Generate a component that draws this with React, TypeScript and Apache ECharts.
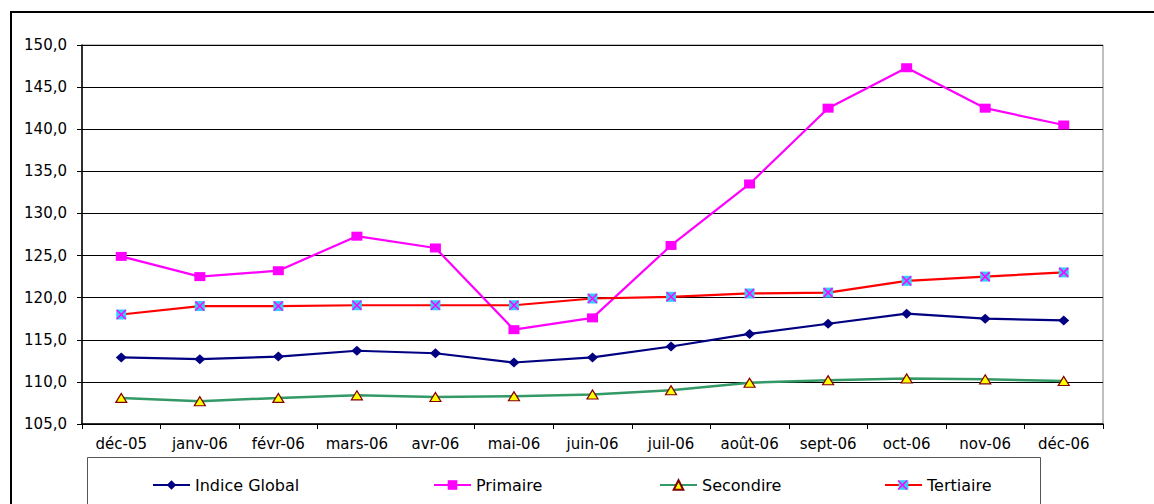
import React, { useEffect, useRef } from "react";
import * as echarts from "echarts";

const categories = ["déc-05", "janv-06", "févr-06", "mars-06", "avr-06", "mai-06", "juin-06", "juil-06", "août-06", "sept-06", "oct-06", "nov-06", "déc-06"];
const indiceGlobal = [112.9, 112.7, 113.0, 113.7, 113.4, 112.3, 112.9, 114.2, 115.7, 116.9, 118.1, 117.5, 117.3];
const primaire = [124.9, 122.5, 123.2, 127.3, 125.9, 116.2, 117.6, 126.2, 133.5, 142.5, 147.3, 142.5, 140.5];
const secondire = [108.1, 107.7, 108.1, 108.4, 108.2, 108.3, 108.5, 109.0, 109.9, 110.2, 110.4, 110.3, 110.1];
const tertiaire = [118.0, 119.0, 119.0, 119.1, 119.1, 119.1, 119.9, 120.1, 120.5, 120.6, 122.0, 122.5, 123.0];
const yTicks = { min: 105, max: 150, interval: 5 };

const FONT = "'DejaVu Sans', Arial, sans-serif";

export default function App() {
  const ref = useRef<HTMLDivElement>(null);
  useEffect(() => {
    if (!ref.current) return;
    const chart = echarts.init(ref.current, null, { renderer: "svg" });
    const legendText = { fontFamily: FONT, fontSize: 16, color: "#000" };
    const mkLegend = (name: string, left: number) => ({
      data: [name],
      left,
      top: 477,
      padding: 0,
      itemWidth: 37,
      itemHeight: 12,
      itemGap: 4,
      textStyle: legendText,
      selectedMode: false,
    });
    chart.setOption({
      animation: false,
      backgroundColor: "#fff",
      grid: { left: 82, top: 45, right: 51, bottom: 80, show: true, borderColor: "#808080", borderWidth: 1 },
      xAxis: {
        type: "category",
        data: categories,
        boundaryGap: true,
        axisLine: { lineStyle: { color: "#000", width: 1.5 } },
        axisTick: { show: true, length: 5, alignWithLabel: false, lineStyle: { color: "#000" } },
        axisLabel: { color: "#000", fontFamily: FONT, fontSize: 15, margin: 12, interval: 0 },
        splitLine: { show: false },
      },
      yAxis: {
        type: "value",
        min: yTicks.min,
        max: yTicks.max,
        interval: yTicks.interval,
        axisLine: { show: true, lineStyle: { color: "#000", width: 1.5 } },
        axisTick: { show: true, length: 5, lineStyle: { color: "#000" } },
        axisLabel: {
          color: "#000",
          fontFamily: FONT,
          fontSize: 15,
          margin: 15,
          formatter: (v: number) => v.toFixed(1).replace(".", ","),
        },
        splitLine: { show: true, lineStyle: { color: "#000", width: 1 } },
      },
      legend: [
        mkLegend("Indice Global", 152),
        mkLegend("Primaire", 433),
        mkLegend("Secondire", 659),
        mkLegend("Tertiaire", 884),
      ],
      graphic: [
        {
          type: "rect",
          shape: { x: 11, y: 12, width: 1200, height: 600 },
          style: { fill: "none", stroke: "#000", lineWidth: 2 },
          silent: true,
          z: -10,
        },
        {
          type: "rect",
          shape: { x: 87.5, y: 457.5, width: 953, height: 100 },
          style: { fill: "none", stroke: "#555", lineWidth: 1 },
          silent: true,
          z: -10,
        },
        {
          type: "line",
          shape: { x1: 898, y1: 480.5, x2: 907, y2: 489.5 },
          style: { stroke: "#FF00FF", lineWidth: 1.5 },
          silent: true,
          z: 100,
        },
        {
          type: "line",
          shape: { x1: 907, y1: 480.5, x2: 898, y2: 489.5 },
          style: { stroke: "#FF00FF", lineWidth: 1.5 },
          silent: true,
          z: 100,
        },
      ],
      series: [
        {
          name: "Indice Global",
          type: "line",
          data: indiceGlobal,
          symbol: "diamond",
          symbolSize: [11, 10],
          lineStyle: { color: "#000080", width: 2.2 },
          itemStyle: { color: "#000080" },
        },
        {
          name: "Primaire",
          type: "line",
          data: primaire,
          symbol: "rect",
          symbolSize: [11, 9],
          lineStyle: { color: "#FF00FF", width: 2.2 },
          itemStyle: { color: "#FF00FF" },
        },
        {
          name: "Secondire",
          type: "line",
          data: secondire,
          symbol: "triangle",
          symbolSize: [11, 9],
          lineStyle: { color: "#339966", width: 2.5 },
          itemStyle: { color: "#FFFF00", borderColor: "#800000", borderWidth: 1.2 },
        },
        {
          name: "Tertiaire",
          type: "line",
          data: tertiaire,
          symbol: "rect",
          symbolSize: [10, 10],
          lineStyle: { color: "#FF0000", width: 2.2 },
          itemStyle: { color: "#33CCFF" },
        },
        {
          name: "Tertiaire-x",
          type: "line",
          data: tertiaire,
          symbol: "path://M0,0L10,10M10,0L0,10",
          symbolSize: 9,
          showSymbol: true,
          lineStyle: { opacity: 0, width: 0 },
          itemStyle: { color: "none", borderColor: "#FF00FF", borderWidth: 1.5 },
          silent: true,
          z: 5,
        },
      ],
    });
    return () => chart.dispose();
  }, []);
  return <div ref={ref} style={{ position: "fixed", left: 0, top: 0, width: 1154, height: 504 }} />;
}
